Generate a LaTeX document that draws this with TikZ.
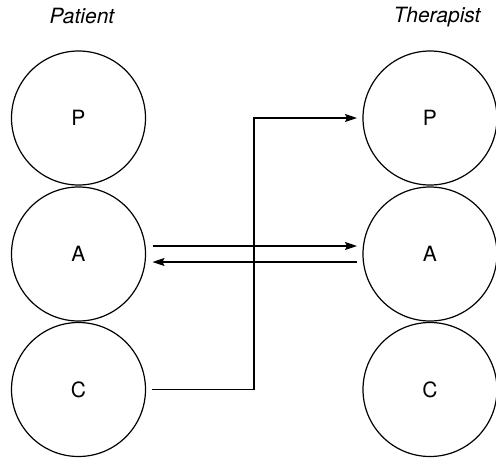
\documentclass[tikz,border=0pt]{standalone}
\usepackage{fontspec}
\setmainfont{TeX Gyre Heros}
\usetikzlibrary{arrows.meta}
\begin{document}
\begin{tikzpicture}[x=1pt,y=-1pt,
  ego/.style={circle,draw,line width=1.2pt,minimum size=134pt,inner sep=0pt,outer sep=0pt,font=\fontsize{21}{25}\selectfont},
  head/.style={font=\fontsize{21}{25}\selectfont\itshape},
  link/.style={line width=1.2pt},
  tip/.style={-{Stealth[length=12pt,width=8pt,inset=2pt]}}]
\useasboundingbox (0,0) rectangle (496,459);
\node[head] (patient) at (82,16) {Patient};
\node[head] (therapist) at (437,17) {Therapist};
\node[ego] (pP) at (78.5,118) {P};
\node[ego] (pA) at (78.5,254) {A};
\node[ego] (pC) at (78.5,389.5) {C};
\node[ego] (tP) at (430,118) {P};
\node[ego] (tA) at (430,254) {A};
\node[ego] (tC) at (430,389.5) {C};
\coordinate (elbowlow) at (254,389.5);
\coordinate (elbowhigh) at (254,118);
\draw[link,tip] ([xshift=7pt,yshift=8pt]pA.east) -- ([xshift=-6pt,yshift=8pt]tA.west);
\draw[link,tip] ([xshift=-6pt,yshift=-8pt]tA.west) -- ([xshift=7pt,yshift=-8pt]pA.east);
\draw[link,tip] ([xshift=6pt]pC.east) -- (elbowlow) -- (elbowhigh) -- ([xshift=-6pt]tP.west);
\end{tikzpicture}
\end{document}
